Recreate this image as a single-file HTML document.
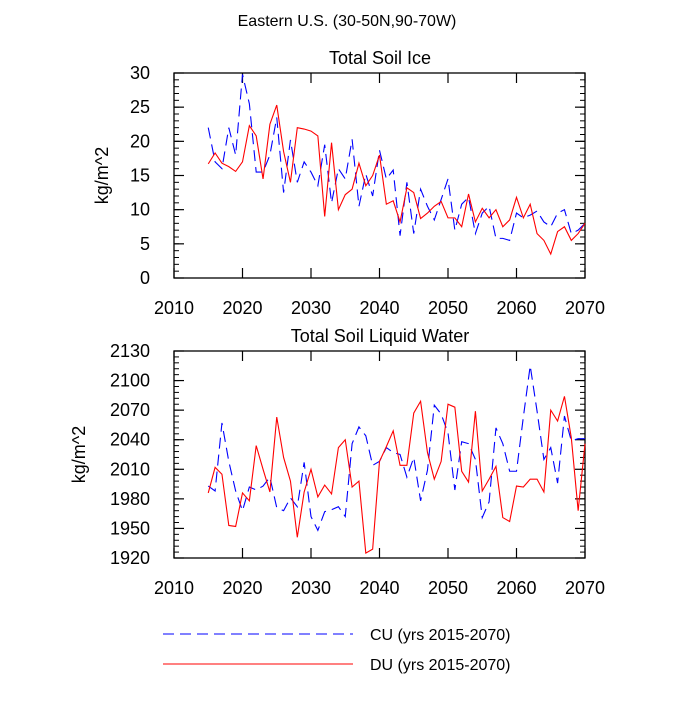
<!DOCTYPE html>
<html><head><meta charset="utf-8"><style>
body{margin:0;background:#fff;width:700px;height:700px;overflow:hidden}
svg{font-family:"Liberation Sans",sans-serif}
</style></head><body>
<svg id="c" width="700" height="700" viewBox="0 0 700 700"></svg>
<script>
const years=[];for(let y=2015;y<=2070;y++)years.push(y);
const iceDU=[16.7,18.3,16.8,16.3,15.6,17,22.3,20.8,14.5,22.5,25.3,18.5,14,22,21.8,21.5,20.8,9,19.8,10,12.2,13,16.8,13.5,15,18,10.8,11.3,8.2,13.2,12.5,8.7,9.5,10.5,11.2,8.8,8.8,7.5,12.3,8.2,10.2,8.8,10,7.5,8.5,11.8,8.8,10.8,6.5,5.5,3.5,6.8,7.5,5.5,6.5,8];
const iceCU=[22,17,16,22,18,29.8,25.5,15.5,15.5,18,23.5,12.5,20.2,14,17,15.5,13.5,19.5,11,16,14.5,20.3,10.5,15.2,12,18.7,14.5,15.8,6.2,14,6.5,13,10.5,8.5,11.5,14.5,7,10.8,11.8,6.5,9.5,10.5,5.8,5.8,5.5,9.5,8.8,9.2,9.8,8.2,7.5,9.5,10,6.5,7,8];
const liqDU=[1986,2012,2005,1953,1952,1986,1978,2034,2010,1987,2063,2022,1998,1941,1987,2010,1982,1994,1985,2032,2040,1992,1998,1925,1929,2018,2033,2049,2014,2014,2067,2079,2027,2000,2018,2076,2073,2008,1997,2069,1988,2000,2013,1961,1957,1993,1992,2000,2000,1987,2070,2059,2084,2042,1968,2036];
const liqCU=[1993,1988,2057,2018,1988,1968,1992,1989,1993,2002,1971,1968,1981,1972,2017,1962,1948,1967,1969,1972,1962,2036,2053,2044,2014,2018,2032,2027,2025,2002,2022,1978,2009,2075,2066,2047,1989,2038,2036,2020,1961,1977,2052,2036,2008,2008,2063,2115,2069,2020,2032,1996,2064,2039,2041,2041];
const xTicks=[2010,2020,2030,2040,2050,2060,2070];
const iceTicks=[0,5,10,15,20,25,30];
const liqTicks=[1920,1950,1980,2010,2040,2070,2100,2130];
const S=document.getElementById('c'),NS='http://www.w3.org/2000/svg';
function el(t,a,txt){const e=document.createElementNS(NS,t);for(const k in a)e.setAttribute(k,a[k]);if(txt!==undefined)e.textContent=txt;S.appendChild(e);return e;}
const X0=174,X1=585;
const sx=v=>X0+(v-2010)*(X1-X0)/60;
function panel(name,top,bot,ymin,ymax,ticks,minorStep,du,cu,title,ytx){
  const sy=v=>bot-(v-ymin)*(bot-top)/(ymax-ymin);
  let t=el('text',{x:380,y:top-9,'font-size':18,'text-anchor':'middle'},title);
  
  let r=el('rect',{x:X0,y:top,width:X1-X0,height:bot-top,fill:'none',stroke:'#000','stroke-width':1.3});
  
  xTicks.forEach(v=>{const x=sx(v);
    el('line',{x1:x,x2:x,y1:bot,y2:bot-10,stroke:'#000','stroke-width':1.2});
    el('line',{x1:x,x2:x,y1:top,y2:top+10,stroke:'#000','stroke-width':1.2});
    const l=el('text',{x:x,y:bot+36,'font-size':18,'text-anchor':'middle'},v);
    });
  for(let v=ymin;v<=ymax+1e-9;v+=minorStep){const y=sy(v);
    el('line',{x1:X0,x2:X0+5,y1:y,y2:y,stroke:'#000','stroke-width':1});
    el('line',{x1:X1,x2:X1-5,y1:y,y2:y,stroke:'#000','stroke-width':1});}
  ticks.forEach(v=>{const y=sy(v);
    el('line',{x1:X0,x2:X0+10,y1:y,y2:y,stroke:'#000','stroke-width':1.2});
    el('line',{x1:X1,x2:X1-10,y1:y,y2:y,stroke:'#000','stroke-width':1.2});
    const l=el('text',{x:X0-24,y:y+6,'font-size':18,'text-anchor':'end'},v);
    });
  const yt=el('text',{x:0,y:0,'font-size':18,'text-anchor':'middle',transform:`translate(${ytx},${(top+bot)/2}) rotate(-90)`},'kg/m^2');
  
  const pc=el('polyline',{points:cu.map((v,i)=>sx(years[i])+','+sy(v)).join(' '),fill:'none',stroke:'#0000ff','stroke-width':1.1,'stroke-dasharray':'11 6'});
  
  const pd=el('polyline',{points:du.map((v,i)=>sx(years[i])+','+sy(v)).join(' '),fill:'none',stroke:'#ff0000','stroke-width':1.1});
  
}
const mt=el('text',{x:347,y:26,'font-size':16,'text-anchor':'middle'},'Eastern U.S. (30-50N,90-70W)');

panel('soil-ice',73,278,0,30,iceTicks,1,iceDU,iceCU,'Total Soil Ice',108);
panel('soil-liquid',351,558,1920,2130,liqTicks,6,liqDU,liqCU,'Total Soil Liquid Water',85);
let l1=el('line',{x1:163,x2:353,y1:634,y2:634,stroke:'#0000ff','stroke-width':1,'stroke-dasharray':'11 6'});

let t1=el('text',{x:370,y:640,'font-size':16},'CU (yrs 2015-2070)');

let l2=el('line',{x1:163,x2:353,y1:664,y2:664,stroke:'#ff0000','stroke-width':1});

let t2=el('text',{x:370,y:670,'font-size':16},'DU (yrs 2015-2070)');

</script>
</body></html>
